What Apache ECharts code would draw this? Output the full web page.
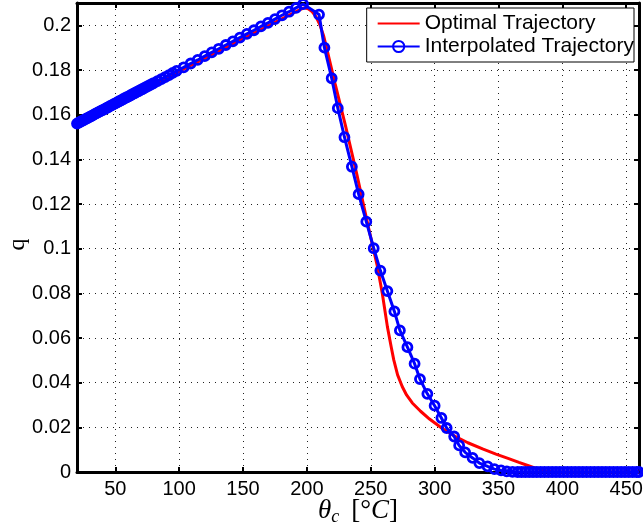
<!DOCTYPE html>
<html>
<head>
<meta charset="utf-8">
<script src="https://cdn.jsdelivr.net/npm/echarts@6/dist/echarts.min.js"></script>
<style>html,body{margin:0;padding:0;background:#fff}#c{width:643px;height:528px}</style>
</head>
<body>
<div id="c"></div>
<script>
var xTicks = [50, 100, 150, 200, 250, 300, 350, 400, 450];
var seriesNames = ['Optimal Trajectory', 'Interpolated Trajectory'];

var redX = [20, 195, 198, 201, 204, 207, 210, 213, 216, 222, 230, 239, 248, 255, 259, 263, 266, 268, 271, 274.6, 278, 282.5, 289, 296, 306, 316, 326, 338, 348, 358, 366, 374, 380, 386, 392, 398, 460];
var redY = [0.156, 0.2072, 0.2078, 0.2074, 0.2062, 0.2040, 0.2005, 0.1955, 0.1885, 0.174, 0.1555, 0.1335, 0.110, 0.0925, 0.080, 0.0651, 0.056, 0.0502, 0.0435, 0.0383, 0.0345, 0.0309, 0.0272, 0.0237, 0.0195, 0.0160, 0.0131, 0.0102, 0.0080, 0.0060, 0.0043, 0.0027, 0.0015, 0.0006, 0.0001, 0, 0];

var blueX = [20, 21.5, 23, 24.5, 26, 27.5, 29, 30.5, 32, 33.5, 35, 36.5, 38, 39.5, 41, 42.5, 44, 45.5, 47, 48.5, 50, 51.5, 53, 54.5, 56, 57.5, 59, 60.5, 62, 63.5, 65, 66.5, 68, 69.5, 71, 72.5, 74, 75.5, 77, 78.5, 80,
  83, 86, 89, 92, 95, 98,
  103.5, 109, 114.5, 120, 125.5, 131, 136.5, 142, 147.5, 153, 158.5, 164, 169.5, 175, 180.5, 186, 191.5, 197,
  209.5, 213.7, 219.4, 224.2, 229.4, 235.2, 240.5, 246.5, 252.3, 257.5, 263, 268.5, 272.8, 278.7, 284.3, 288.5, 294.3, 300, 305.3, 309.4, 315.3, 319.2, 323.9, 329.7, 335, 341.5, 346.8, 352, 356.5, 361,
  365, 368, 371, 374, 377, 380, 383, 386, 389, 392, 395, 398, 401, 404, 407, 410, 413, 416, 419, 422, 425, 428, 431, 434, 437, 440, 443, 446, 449, 452, 455, 458, 460];
var blueY = [0.1560, 0.1565, 0.1569, 0.1574, 0.1578, 0.1583, 0.1587, 0.1592, 0.1596, 0.1601, 0.1606, 0.1610, 0.1615, 0.1619, 0.1623, 0.1628, 0.1632, 0.1637, 0.1642, 0.1646, 0.1651, 0.1655, 0.1660, 0.1664, 0.1669, 0.1674, 0.1678, 0.1682, 0.1687, 0.1692, 0.1696, 0.1701, 0.1705, 0.1710, 0.1714, 0.1719, 0.1723, 0.1728, 0.1732, 0.1737, 0.1741,
  0.1750, 0.1759, 0.1768, 0.1777, 0.1787, 0.1796,
  0.1812, 0.1829, 0.1845, 0.1862, 0.1879, 0.1895, 0.1912, 0.1928, 0.1945, 0.1962, 0.1978, 0.1995, 0.2011, 0.2028, 0.2045, 0.2061, 0.2078, 0.2095,
  0.2048, 0.1900, 0.1763, 0.1629, 0.1499, 0.1367, 0.1244, 0.1121, 0.1002, 0.0902, 0.0810, 0.0719, 0.0634, 0.0559, 0.0485, 0.0416, 0.0350, 0.0297, 0.0242, 0.0197, 0.0159, 0.0119, 0.0088, 0.0063, 0.0040, 0.0025, 0.0013, 0.0007, 0.0003, 0.0001,
  0, 0, 0, 0, 0, 0, 0, 0, 0, 0, 0, 0, 0, 0, 0, 0, 0, 0, 0, 0, 0, 0, 0, 0, 0, 0, 0, 0, 0, 0, 0, 0, 0];

function zip(a, b) { return a.map(function (v, i) { return [v, b[i]]; }); }

var FONT = 'Liberation Sans';
var SERIF = 'Liberation Serif';
var gridLine = { show: true, lineStyle: { color: '#222', type: [1, 5], width: 1 } };
var axLine = { show: true, onZero: false, lineStyle: { color: '#000', width: 3 } };
var tick = { show: true, inside: true, length: 5, lineStyle: { color: '#000', width: 2 } };

var chart = echarts.init(document.getElementById('c'), null, { renderer: 'canvas' });
chart.setOption({
  animation: false,
  backgroundColor: '#fff',
  grid: { left: 77, right: 4, top: 3, bottom: 56, containLabel: false, outerBoundsMode: 'none' },
  legend: {
    right: 9, top: 8, orient: 'vertical',
    borderColor: '#000', borderWidth: 1, backgroundColor: '#fff',
    padding: [5, 0, 5, 10], itemGap: 2, itemWidth: 42, itemHeight: 14,
    textStyle: { fontSize: 21, fontFamily: FONT, color: '#000' },
    data: [
      { name: seriesNames[0], itemStyle: { color: 'rgba(0,0,0,0)', borderWidth: 0, opacity: 0 } },
      { name: seriesNames[1] }
    ]
  },
  xAxis: [{
    type: 'value', min: 20, max: 460, position: 'bottom',
    axisLine: axLine,
    axisTick: Object.assign({ customValues: xTicks }, tick),
    axisLabel: { customValues: xTicks, fontSize: 20, fontFamily: FONT, color: '#000', margin: 7 },
    splitLine: gridLine,
    name: '{t|θ}{s|c}{g| }{n|[°}{i|C}{n|]}', nameLocation: 'middle', nameGap: 23, nameMoveOverlap: false,
    nameTextStyle: {
      rich: {
        t: { fontFamily: SERIF, fontStyle: 'italic', fontSize: 27, color: '#000' },
        s: { fontFamily: SERIF, fontStyle: 'italic', fontSize: 18, color: '#000', padding: [13, 0, 0, 0] },
        g: { fontSize: 27, width: 12 },
        n: { fontFamily: SERIF, fontSize: 27, color: '#000' },
        i: { fontFamily: SERIF, fontStyle: 'italic', fontSize: 27, color: '#000' }
      }
    }
  }, {
    type: 'value', min: 20, max: 460, position: 'top',
    axisLine: axLine,
    axisTick: Object.assign({ customValues: xTicks }, tick),
    axisLabel: { show: false }, splitLine: { show: false }
  }],
  yAxis: [{
    type: 'value', min: 0, max: 0.21, interval: 0.02, position: 'left',
    axisLine: axLine, axisTick: tick,
    axisLabel: { fontSize: 20, fontFamily: FONT, color: '#000', margin: 6, showMaxLabel: false },
    splitLine: gridLine,
    name: 'q', nameLocation: 'middle', nameGap: 47, nameRotate: 90, nameMoveOverlap: false,
    nameTextStyle: { fontFamily: SERIF, fontSize: 24, color: '#000', padding: [0, 14, 0, 0] }
  }, {
    type: 'value', min: 0, max: 0.21, interval: 0.02, position: 'right',
    axisLine: axLine, axisTick: tick,
    axisLabel: { show: false }, splitLine: { show: false }
  }],
  series: [{
    name: seriesNames[0], type: 'line', xAxisIndex: 0, yAxisIndex: 0,
    data: zip(redX, redY), showSymbol: false, symbol: 'none', clip: false,
    lineStyle: { color: '#ff0000', width: 3 }, itemStyle: { color: '#ff0000' }, z: 3
  }, {
    name: seriesNames[1], type: 'line', xAxisIndex: 0, yAxisIndex: 0,
    data: zip(blueX, blueY), symbol: 'circle', symbolSize: 9, showAllSymbol: true, clip: false,
    lineStyle: { color: '#0000ff', width: 3 },
    itemStyle: { color: 'rgba(0,0,0,0)', borderColor: '#0000ff', borderWidth: 2.8 }, z: 4
  }]
});
</script>
</body>
</html>
